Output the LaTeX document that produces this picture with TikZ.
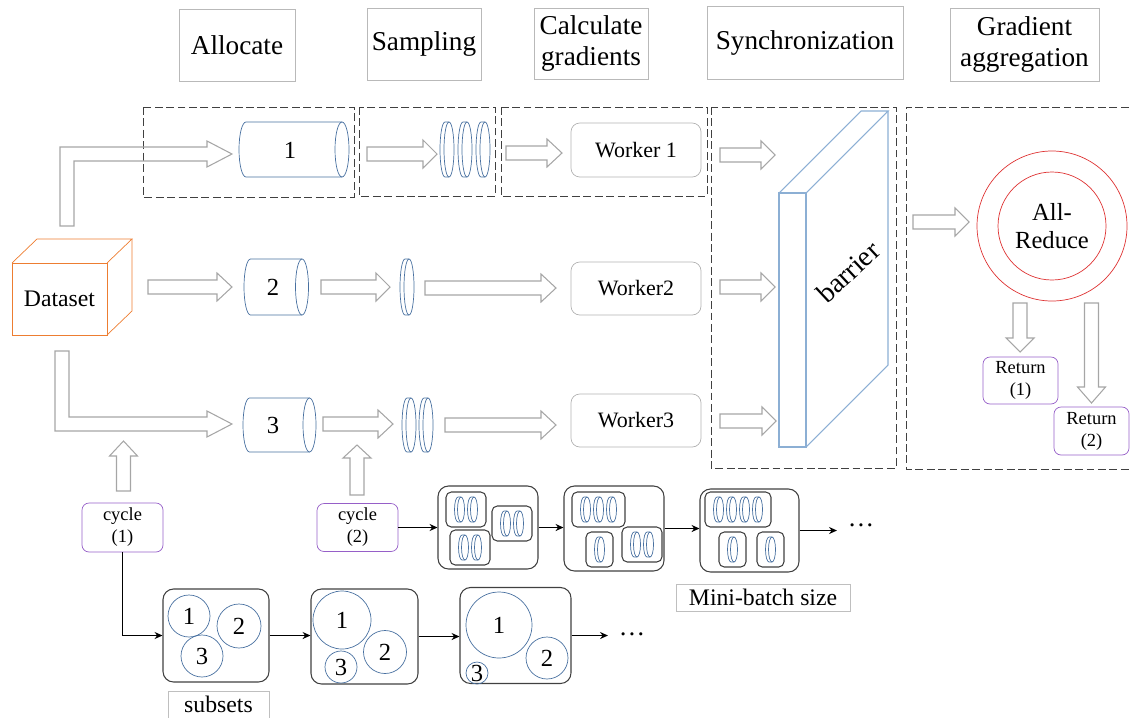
\documentclass[tikz,border=0pt]{standalone}
\usepackage{fontspec}
\setmainfont{Liberation Serif}
\usetikzlibrary{arrows.meta,positioning,calc}
\definecolor{dsorange}{RGB}{237,125,49}
\definecolor{cylblue}{RGB}{72,112,160}
\definecolor{wallblue}{RGB}{140,175,212}
\definecolor{arred}{RGB}{222,50,50}
\definecolor{cycpurple}{RGB}{150,95,200}
\definecolor{arrgray}{RGB}{166,166,166}
\definecolor{boxgray}{RGB}{64,64,64}

% hollow block arrows (start, tip, height, head base)
\newcommand{\harrow}[4]{%
  \draw[blk] ({#1},{#3-7}) -- ({#4},{#3-7}) -- ({#4},{#3-14}) -- ({#2},{#3}) -- ({#4},{#3+14}) -- ({#4},{#3+7}) -- ({#1},{#3+7}) -- cycle;}
\newcommand{\varrow}[4]{%
  \draw[blk] ({#1-7},{#2}) -- ({#1-7},{#4}) -- ({#1-14},{#4}) -- ({#1},{#3}) -- ({#1+14},{#4}) -- ({#1+7},{#4}) -- ({#1+7},{#2}) -- cycle;}
% cylinder lying on its side (left x, centre of right end, top, bottom, end radius)
\newcommand{\cylshape}[5]{%
  \draw[cylblue] ({#2},{#3}) -- ({(#1)+(#5)},{#3}) arc[start angle=270,end angle=90,x radius={#5},y radius={((#4)-(#3))/2}] -- ({#2},{#4});
  \draw[cylblue] ({#2},{((#3)+(#4))/2}) ellipse[x radius={#5},y radius={((#4)-(#3))/2}];}
\newcommand{\diskshape}[5]{\cylshape{#1}{#1+#4+#5}{#2}{#3}{#4}}
% small box of n samples
\newcommand{\batchbox}[3]{%
  \draw[boxgray, line width=0.6pt, rounded corners=3pt] (#1,#2) rectangle ++({13*#3+14},35);
  \foreach \k in {1,...,#3} {\diskshape{#1+8.5+13*(\k-1)}{#2+5}{#2+30}{3.5}{3}}}

\begin{document}
\begin{tikzpicture}[x=0.02cm, y=-0.02cm,
  wh/.style 2 args={minimum width={#1*0.02cm}, minimum height={#2*0.02cm}},
  hdr/.style={draw=gray!55, inner sep=0pt, align=center, font=\fontsize{15.5}{18}\selectfont},
  lbl/.style={draw=gray!50, inner sep=0pt, font=\fontsize{13.5}{16}\selectfont},
  wk/.style={draw=gray!60, rounded corners=5pt, inner sep=0pt, font=\fontsize{12.5}{15}\selectfont},
  cyc/.style={draw=cycpurple, rounded corners=4pt, inner sep=0pt, align=center, font=\fontsize{10.5}{12.5}\selectfont},
  grp/.style={draw=boxgray, line width=0.6pt, rounded corners=6pt, inner sep=0pt},
  sub/.style={circle, draw=cylblue, inner sep=0pt, font=\fontsize{14}{16}\selectfont},
  ring/.style={circle, draw=arred, inner sep=0pt, align=center, font=\fontsize{14}{16}\selectfont},
  wall/.style={draw=wallblue, line width=0.6pt},
  dashframe/.style={draw=boxgray, line width=0.5pt, dash pattern=on 4.5pt off 2pt},
  blk/.style={draw=arrgray, line width=0.6pt},
  conn/.style={-{Stealth[length=4.5pt, width=4pt]}, line width=0.6pt},
  dts/.style={inner xsep=6pt, inner ysep=0pt, font=\fontsize{15}{18}\selectfont}]
\useasboundingbox (0,0) rectangle (1131,717);

% stage headers
\node[hdr, wh={116}{72}] (hAlloc) at (237,45) {Allocate};
\node[hdr, wh={114}{72}] (hSamp) at (424,44) {Sampling};
\node[hdr, wh={114}{71}] (hCalc) at (591,43.5) {Calculate\\gradients};
\node[hdr, wh={196}{73}] (hSync) at (805,42.5) {Synchronization};
\node[hdr, wh={149}{73}] (hGrad) at (1024.5,44.5) {Gradient\\aggregation};

% dashed stage frames
\draw[dashframe] (143,107) rectangle (354,197);
\draw[dashframe] (359,107) rectangle (495,196);
\draw[dashframe] (501,107) rectangle (707,196);
\draw[dashframe] (711,107) rectangle (896,468);
\draw[dashframe] (1140,107) -- (906,107) -- (906,469) -- (1140,469);

% dataset cube
\draw[dsorange] (12,263) rectangle (107,335);
\draw[dsorange] (12,263) -- (37,239) -- (132,239) -- (107,263);
\draw[dsorange] (132,239) -- (132,311) -- (107,335);
\node[font=\fontsize{13.5}{16}\selectfont] (data) at (59.5,299) {Dataset};

% partitions
\cylshape{239}{342}{122}{177}{7}
\cylshape{244}{302}{259}{315}{6.5}
\cylshape{243}{309.5}{398}{452}{6.5}
\node[font=\fontsize{14}{16}\selectfont] (p1) at (290,150) {1};
\node[font=\fontsize{14}{16}\selectfont] (p2) at (273,287) {2};
\node[font=\fontsize{14}{16}\selectfont] (p3) at (273,425) {3};

% sampled batches
\foreach \x in {440,458,476} {\diskshape{\x}{122}{177}{5}{4}}
\diskshape{400}{259}{315}{5}{4}
\foreach \x in {402,419} {\diskshape{\x}{398}{452}{5}{4}}

% workers
\node[wk, wh={130}{54}] (w1) at (636,150) {Worker 1};
\node[wk, wh={130}{53}] (w2) at (636,288.5) {Worker2};
\node[wk, wh={130}{53}] (w3) at (636,420.5) {Worker3};

% barrier
\draw[wall] (779,193) rectangle (806,447);
\draw[wall] (779,193) -- (861,111) -- (888,111) -- (806,193);
\draw[wall] (888,111) -- (888,365) -- (806,447);
\node[rotate=43, font=\fontsize{16}{18}\selectfont] (bar) at (848,272) {barrier};

% all-reduce
\node[ring, minimum size=150*0.02cm] (arOut) at (1052,226) {};
\node[ring, minimum size=108*0.02cm] (ar) at (1052,226) {All-\\Reduce};
\node[cyc, wh={75}{47}] (ret1) at (1020.5,380.5) {Return\\(1)};
\node[cyc, wh={75}{48}] (ret2) at (1091.5,431) {Return\\(2)};

% block arrows
\draw[blk] (60,226) -- (60,147) -- (207,147) -- (207,141) -- (232,154) -- (207,167) -- (207,161) -- (74,161) -- (74,226) -- cycle;
\draw[blk] (55,351) -- (55,431) -- (207,431) -- (207,437) -- (232,424) -- (207,411) -- (207,417) -- (69,417) -- (69,351) -- cycle;
\harrow{367}{437}{154}{423}
\harrow{506}{562}{153}{547}
\harrow{720}{775}{155}{761}
\harrow{148}{232}{287}{217}
\harrow{321}{390}{287}{376}
\harrow{425}{556}{288}{541}
\harrow{720}{775}{287}{761}
\harrow{323}{393}{424}{378}
\harrow{445}{556}{425}{541}
\harrow{720}{776}{421}{762}
\harrow{913}{969}{222}{955}
\varrow{123.5}{491}{441}{456}
\varrow{357}{495}{445}{458}
\varrow{1020}{303}{352}{338}
\varrow{1091.5}{303}{403}{387}

% cycles
\node[cyc, wh={81}{49}] (cyc1) at (122.5,527.5) {cycle\\(1)};
\node[cyc, wh={81}{48}] (cyc2) at (357.5,527.5) {cycle\\(2)};

% subsets
\node[grp, wh={106}{93}] (s1) at (216,635.5) {};
\node[grp, wh={107}{95}] (s2) at (364.5,636.5) {};
\node[grp, wh={111}{96}] (s3) at (515.5,635.5) {};
\node[sub, minimum size=42*0.02cm] at (189,616) {1};
\node[sub, minimum size=44*0.02cm] at (239,626) {2};
\node[sub, minimum size=42*0.02cm] at (202,656) {3};
\node[sub, minimum size=58*0.02cm] at (342,620) {1};
\node[sub, minimum size=43*0.02cm] at (385,652) {2};
\node[sub, minimum size=32*0.02cm] at (341,667) {3};
\node[sub, minimum size=66*0.02cm] at (499,625) {1};
\node[sub, minimum size=42*0.02cm] at (547,658) {2};
\node[sub, minimum size=22*0.02cm] at (477,673) {3};
\node[lbl, wh={101}{27}] (subl) at (218.5,704.5) {subsets};
\draw[gray!50] (subl.south west) -- ++(0,10) (subl.south east) -- ++(0,10);
\node[dts] (dotsA) at (632,634) {…};

% mini-batches
\node[grp, wh={100}{83}] (mb1) at (488,527.5) {};
\node[grp, wh={100}{85}] (mb2) at (614,528.5) {};
\node[grp, wh={99}{83}] (mb3) at (749.5,530.5) {};
\batchbox{446}{492}{2}
\batchbox{492}{506}{2}
\batchbox{450}{530}{2}
\batchbox{572}{492}{3}
\batchbox{586}{532}{1}
\batchbox{622}{527}{2}
\batchbox{705}{492}{4}
\batchbox{719}{532}{1}
\batchbox{757}{532}{1}
\node[lbl, wh={174}{27}] (mbl) at (763,597.5) {Mini-batch size};
\node[dts] (dotsB) at (861,525) {…};

% thin connectors
\draw[conn] (cyc1.south) |- (s1.west);
\draw[conn] (cyc2.east) -- (cyc2.east -| mb1.west);
\foreach \a/\b in {s1/s2,s2/s3,mb1/mb2,mb2/mb3} \draw[conn] (\a.east) -- (\a.east -| \b.west);
\draw[conn] (s3.east) -- (s3.east -| dotsA.west);
\draw[conn] (mb3.east) -- (mb3.east -| dotsB.west);
\end{tikzpicture}
\end{document}
